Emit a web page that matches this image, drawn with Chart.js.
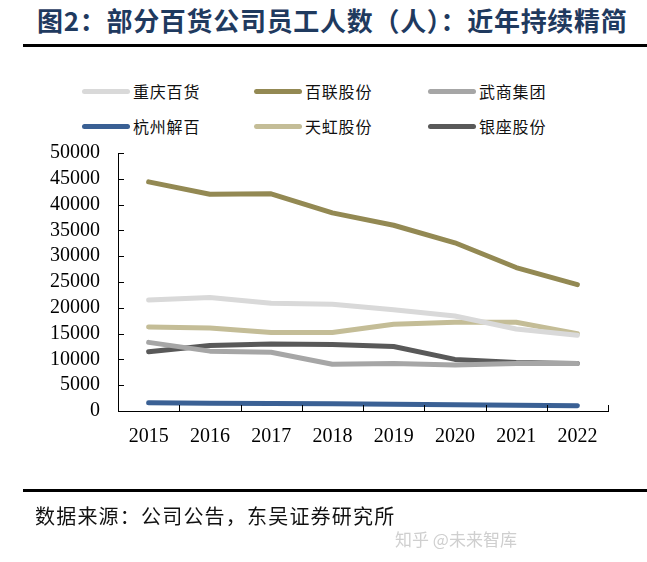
<!DOCTYPE html>
<html><head><meta charset="utf-8">
<script src="https://cdn.jsdelivr.net/npm/chart.js@4/dist/chart.umd.min.js"></script>
<style>
html,body{margin:0;padding:0;background:#fff;}
#wrap{position:relative;width:647px;height:562px;overflow:hidden;font-family:"Noto Sans CJK SC",sans-serif;}
#title{position:absolute;left:37px;top:1px;font-size:26px;font-weight:bold;color:#1f3a5f;white-space:nowrap;letter-spacing:0.7px;}
.rule{position:absolute;left:23px;width:624px;height:3px;background:#000;}
#legend{position:absolute;left:0;top:0;}
.li{position:absolute;display:flex;align-items:center;font-size:16px;color:#111;letter-spacing:0.8px;white-space:nowrap;}
.sw{width:48px;height:5px;border-radius:3px;margin-right:3px;}
#src{position:absolute;left:35px;top:501px;font-size:20px;color:#111;white-space:nowrap;letter-spacing:1.2px;}
#wm{position:absolute;left:395px;top:526px;font-size:17px;color:#cfcfcf;white-space:nowrap;}
canvas{position:absolute;left:0;top:0;}
</style></head>
<body><div id="wrap">
<div id="title">图2：部分百货公司员工人数（人）：近年持续精简</div>
<div class="rule" style="top:44px"></div>
<div id="legend"></div>
<canvas id="c" width="647" height="562"></canvas>
<div class="rule" style="top:489px"></div>
<div id="src">数据来源：公司公告，东吴证券研究所</div>
<div id="wm">知乎 @未来智库</div>
</div>
<script>
const years = ["2015","2016","2017","2018","2019","2020","2021","2022"];
const seriesNames = ["重庆百货","百联股份","武商集团","杭州解百","天虹股份","银座股份"];
const chongqing = [21500,22000,20900,20700,19600,18400,15900,14700];
const bailian   = [44400,42000,42100,38400,36000,32600,27800,24500];
const wushang   = [13300,11600,11400,9050,9200,8900,9200,9200];
const hangzhou  = [1600,1500,1450,1400,1300,1200,1100,1000];
const tianhong  = [16300,16100,15200,15200,16800,17200,17200,15000];
const yinzuo    = [11500,12700,13000,12900,12500,10000,9400,9200];
const yTicks = [0,5000,10000,15000,20000,25000,30000,35000,40000,45000,50000];
const colors = ["#d9d9d9","#938953","#a6a6a6","#3a6094","#c4bd97","#595959"];
const values = [chongqing,bailian,wushang,hangzhou,tianhong,yinzuo];
// draw order (back to front)
const order = [0,4,2,5,3,1];

const legendPos = [[82,91],[254,91],[428,91],[82,126],[254,126],[428,126]];
const lg = document.getElementById('legend');
seriesNames.forEach((n,i)=>{
  const d=document.createElement('div');d.className='li';
  d.style.left=legendPos[i][0]+'px';d.style.top=(legendPos[i][1]-12)+'px';d.style.height='24px';
  d.innerHTML='<div class="sw" style="background:'+colors[i]+'"></div><span>'+n+'</span>';
  lg.appendChild(d);
});

const innerTicks = {
  id:'innerTicks',
  afterDraw(chart){
    const ctx=chart.ctx, x=chart.scales.x, y=chart.scales.y;
    ctx.save();ctx.strokeStyle='#000';ctx.lineWidth=1;
    ctx.beginPath();
    y.ticks.forEach(t=>{const py=Math.round(y.getPixelForValue(t.value))+0.5;ctx.moveTo(x.left,py);ctx.lineTo(x.left+6,py);});
    const n=years.length, w=(x.right-x.left)/n;
    for(let i=1;i<=n;i++){const px=Math.round(x.left+i*w)+0.5;ctx.moveTo(px,y.bottom);ctx.lineTo(px,y.bottom-6);}
    ctx.stroke();ctx.restore();
  }
};

new Chart(document.getElementById('c'),{
  type:'line',
  data:{labels:years,datasets:order.map(i=>({label:seriesNames[i],data:values[i],borderColor:colors[i],backgroundColor:colors[i],borderWidth:5,pointRadius:0,tension:0,borderCapStyle:'round',borderJoinStyle:'round',fill:false}))},
  options:{
    responsive:false,animation:false,
    layout:{padding:{left:0,right:39,top:153,bottom:111}},
    plugins:{legend:{display:false},tooltip:{enabled:false}},
    scales:{
      x:{offset:true,
        grid:{display:true,drawOnChartArea:false,drawTicks:false},
        border:{display:true,color:'#000',width:1},
        ticks:{padding:14,color:'#000',font:{family:'"Liberation Serif","Times New Roman",serif',size:20}},
        afterFit(s){s.height=40;}
      },
      y:{min:0,max:50000,
        afterBuildTicks(s){s.ticks=yTicks.map(v=>({value:v}));},
        grid:{display:true,drawOnChartArea:false,drawTicks:false},
        border:{display:true,color:'#000',width:1},
        ticks:{padding:18,color:'#000',autoSkip:false,callback:(v)=>String(v),font:{family:'"Liberation Serif","Times New Roman",serif',size:20}},
        afterFit(s){s.width=118;}
      }
    }
  },
  plugins:[innerTicks]
});
</script>
</body></html>
